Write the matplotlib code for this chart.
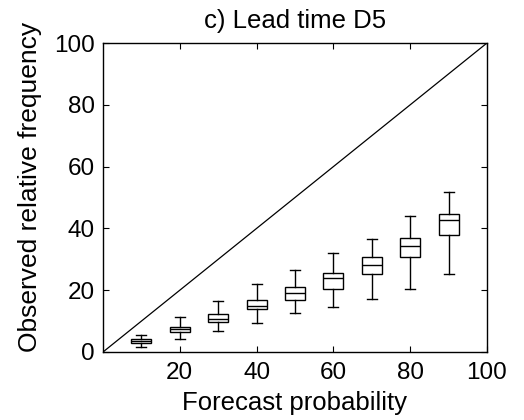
import matplotlib

matplotlib.use("Agg")
import matplotlib.pyplot as plt

plt.rcParams["font.family"] = ["Liberation Sans", "DejaVu Sans"]

# forecast probability bins and box statistics (observed relative frequency, %)
prob = [10, 20, 30, 40, 50, 60, 70, 80, 90]
whisk_lo = [1.6, 4.1, 6.8, 9.3, 12.5, 14.7, 17.3, 20.4, 25.1]
q1 = [2.9, 6.5, 9.7, 13.9, 16.8, 20.4, 25.1, 30.8, 37.8]
median = [3.6, 7.4, 10.6, 14.8, 19.0, 23.9, 28.2, 34.3, 42.6]
q3 = [4.2, 8.2, 12.3, 16.9, 20.9, 25.6, 30.8, 36.9, 44.8]
whisk_hi = [5.4, 11.2, 16.5, 22.1, 26.5, 32.0, 36.5, 43.9, 51.7]

stats = []
for lo, a, m, b, hi in zip(whisk_lo, q1, median, q3, whisk_hi):
    stats.append({"whislo": lo, "q1": a, "med": m, "q3": b, "whishi": hi, "fliers": []})

fig = plt.figure(figsize=(5.24, 4.2), dpi=100)
ax = fig.add_axes([103 / 524, 1 - 352 / 420, 384 / 524, 309 / 420])

ax.plot([0, 100], [0, 100], color="black", linewidth=0.9)

line = dict(color="black", linewidth=1.0)
ax.bxp(stats, positions=prob, widths=5.2, patch_artist=True, manage_ticks=False,
       boxprops=dict(facecolor="white", edgecolor="black", linewidth=1.0),
       medianprops=line, whiskerprops=line, capprops=line, capwidths=2.6)

ax.set_xlim(0, 100)
ax.set_ylim(0, 100)
ax.set_xticks([20, 40, 60, 80, 100])
ax.set_yticks([0, 20, 40, 60, 80, 100])
ax.tick_params(direction="in", top=True, right=True, labelsize=17.5, length=4)
ax.tick_params(axis="x", pad=7)
ax.tick_params(axis="y", pad=6)
for s in ax.spines.values():
    s.set_linewidth(1.0)

ax.set_title("c) Lead time D5", fontsize=18.5, pad=11)
ax.set_xlabel("Forecast probability", fontsize=18.5, labelpad=5)
ax.set_ylabel("Observed relative frequency", fontsize=19)
ax.yaxis.set_label_coords(-0.158, 0.534)

fig.savefig("out.png", dpi=100)
